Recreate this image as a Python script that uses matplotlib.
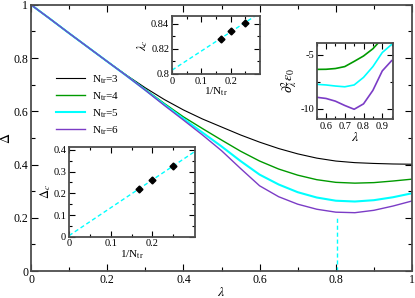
import matplotlib
matplotlib.use("Agg")
import matplotlib.pyplot as plt
import numpy as np

plt.rcParams['font.family'] = ['Liberation Serif', 'DejaVu Serif']
plt.rcParams['mathtext.fontset'] = 'stix'

# main panel: gap Delta vs lambda for N_tr = 3..6
lam = [0.0, 0.05, 0.1, 0.15, 0.2, 0.25, 0.3, 0.35, 0.4, 0.45, 0.5,
       0.55, 0.6, 0.65, 0.7, 0.75, 0.8, 0.85, 0.9, 0.95, 1.0]
gap_n3 = [1.0, 0.947, 0.893, 0.840, 0.787, 0.736, 0.688, 0.644, 0.605, 0.571, 0.541,
          0.511, 0.484, 0.460, 0.440, 0.424, 0.413, 0.407, 0.404, 0.402, 0.401]
gap_n4 = [1.0, 0.947, 0.893, 0.840, 0.787, 0.735, 0.682, 0.629, 0.579, 0.535, 0.492,
          0.450, 0.413, 0.383, 0.360, 0.343, 0.333, 0.330, 0.332, 0.338, 0.345]
gap_n5 = [1.0, 0.947, 0.893, 0.840, 0.787, 0.734, 0.680, 0.625, 0.572, 0.520, 0.468,
          0.413, 0.362, 0.325, 0.296, 0.276, 0.264, 0.261, 0.266, 0.277, 0.292]
gap_n6 = [1.0, 0.947, 0.893, 0.840, 0.787, 0.734, 0.679, 0.622, 0.567, 0.511, 0.452,
          0.385, 0.320, 0.279, 0.251, 0.232, 0.221, 0.219, 0.228, 0.244, 0.263]
labels = [r'N$_{\rm tr}$=3', r'N$_{\rm tr}$=4', r'N$_{\rm tr}$=5', r'N$_{\rm tr}$=6']
colors = ['black', '#009a00', '#00ffff', '#7b3cc6']

# extrapolated critical point
lam_c_inf = 0.802
gap_mark_top = 0.2

# insets: finite size scaling
inv_n = [1/6, 1/5, 1/4]
lam_c = [0.8278, 0.8342, 0.8406]
gap_c = [0.220, 0.261, 0.327]

# inset: second derivative of ground state energy
lam_d = [0.55, 0.6, 0.65, 0.7, 0.75, 0.8, 0.85, 0.9, 0.95]
d2e_n4 = [-6.36, -6.35, -6.28, -6.10, -5.62, -5.12, -4.45, -3.50, -2.5]
d2e_n5 = [-7.74, -7.80, -7.90, -7.97, -7.80, -7.10, -6.10, -4.80, -4.05]
d2e_n6 = [-8.94, -9.05, -9.30, -9.70, -10.05, -9.55, -8.30, -6.50, -5.55]

fig = plt.figure(figsize=(4.15, 2.98), dpi=100)
ax = fig.add_axes([0.0747, 0.0906, 0.9181, 0.8934])

gaps = [gap_n3, gap_n4, gap_n5, gap_n6]
widths = [0.8, 1.0, 1.5, 1.0]
for g, c, l, w in zip(gaps, colors, labels, widths):
    ax.plot(lam, g, color=c, lw=w, label=l)
ax.plot([lam_c_inf, lam_c_inf], [0, gap_mark_top], color='#00ffff', lw=1.0, ls='--', dashes=(3, 2))

ax.set_xlim(0, 1)
ax.set_ylim(0, 1)
ax.set_xticks([0, 0.2, 0.4, 0.6, 0.8, 1])
ax.set_xticklabels(['0', '0.2', '0.4', '0.6', '0.8', '1'])
ax.set_yticks([0, 0.2, 0.4, 0.6, 0.8, 1])
ax.set_yticklabels(['0', '0.2', '0.4', '0.6', '0.8', '1'])
ax.set_xticks(np.arange(0.1, 1, 0.2), minor=True)
ax.set_yticks(np.arange(0.1, 1, 0.2), minor=True)
ax.set_xlabel(r'$\lambda$', fontsize=10, labelpad=0)
ax.set_ylabel(r'$\Delta$', fontsize=10)
ax.yaxis.set_label_coords(-0.047, 0.5)

def style(a, size=8, major=5, minor=3):
    a.tick_params(which='both', direction='in', top=True, right=True, labelsize=size, pad=2)
    a.tick_params(which='major', length=major, width=0.8)
    a.tick_params(which='minor', length=minor, width=0.8)
    for s in a.spines.values():
        s.set_linewidth(1.3)
        s.set_color('0.3')

style(ax, size=8.5)
leg = ax.legend(loc='upper left', bbox_to_anchor=(0.04, 0.78), frameon=False, fontsize=8,
                handlelength=2.6, handletextpad=0.6, labelspacing=0.4)

# inset: lambda_c vs 1/N_tr
ax1 = fig.add_axes([0.4145, 0.7517, 0.212, 0.1946])
fit1 = np.polyfit(inv_n, lam_c, 1)
xs = np.array([0, 0.3])
ax1.plot(xs, np.polyval(fit1, xs), color='#00ffff', lw=1.0, ls='--', dashes=(3, 2))
ax1.plot(inv_n, lam_c, 'D', color='black', ms=3.5)
ax1.set_xlim(0, 0.3)
ax1.set_ylim(0.8, 0.846)
ax1.set_xticks([0, 0.1, 0.2])
ax1.set_xticklabels(['0', '0.1', '0.2'])
ax1.set_xticks([0.05, 0.15, 0.25], minor=True)
ax1.set_yticks([0.8, 0.82, 0.84])
ax1.set_yticklabels(['0.8', '0.82', '0.84'])
ax1.set_yticks([0.81, 0.83], minor=True)
ax1.set_xlabel(r'1/N$_{\rm tr}$', fontsize=8, labelpad=0)
ax1.set_ylabel(r'$\lambda_c$', fontsize=9, labelpad=1)
style(ax1, size=7.5, major=4, minor=2)

# inset: second derivative
ax2 = fig.add_axes([0.763, 0.6007, 0.1839, 0.256])
for d, c in zip([d2e_n4, d2e_n5, d2e_n6], colors[1:]):
    ax2.plot(lam_d, d, color=c, lw=1.2)
ax2.set_xlim(0.552, 0.957)
ax2.set_ylim(-10.95, -3.89)
ax2.set_xticks([0.6, 0.7, 0.8, 0.9])
ax2.set_xticklabels(['0.6', '0.7', '0.8', '0.9'])
ax2.set_xticks([0.55, 0.65, 0.75, 0.85, 0.95], minor=True)
ax2.set_yticks([-10, -5])
ax2.set_yticklabels(['-10', '-5'])
ax2.set_yticks([-7.5], minor=True)
ax2.set_xlabel(r'$\lambda$', fontsize=10, labelpad=0)
ax2.set_ylabel(r'$\partial^2_\lambda\varepsilon_0$', fontsize=10, labelpad=1)
style(ax2, size=7.5, major=4, minor=2)

# inset: Delta_c vs 1/N_tr
ax3 = fig.add_axes([0.1663, 0.2057, 0.3036, 0.302])
fit3 = np.polyfit(inv_n, gap_c, 1)
ax3.plot(xs, np.polyval(fit3, xs), color='#00ffff', lw=1.0, ls='--', dashes=(3, 2))
ax3.plot(inv_n, gap_c, 'D', color='black', ms=3.5)
ax3.set_xlim(0, 0.302)
ax3.set_ylim(0, 0.415)
ax3.set_xticks([0, 0.1, 0.2])
ax3.set_xticklabels(['0', '0.1', '0.2'])
ax3.set_xticks([0.05, 0.15, 0.25], minor=True)
ax3.set_yticks([0, 0.1, 0.2, 0.3, 0.4])
ax3.set_yticklabels(['0', '0.1', '0.2', '0.3', '0.4'])
ax3.set_yticks([0.05, 0.15, 0.25, 0.35], minor=True)
ax3.set_xlabel(r'1/N$_{\rm tr}$', fontsize=8, labelpad=0)
ax3.set_ylabel(r'$\Delta_c$', fontsize=9, labelpad=0)
style(ax3, size=7.5, major=4, minor=2)

fig.savefig('out.png', dpi=100)
